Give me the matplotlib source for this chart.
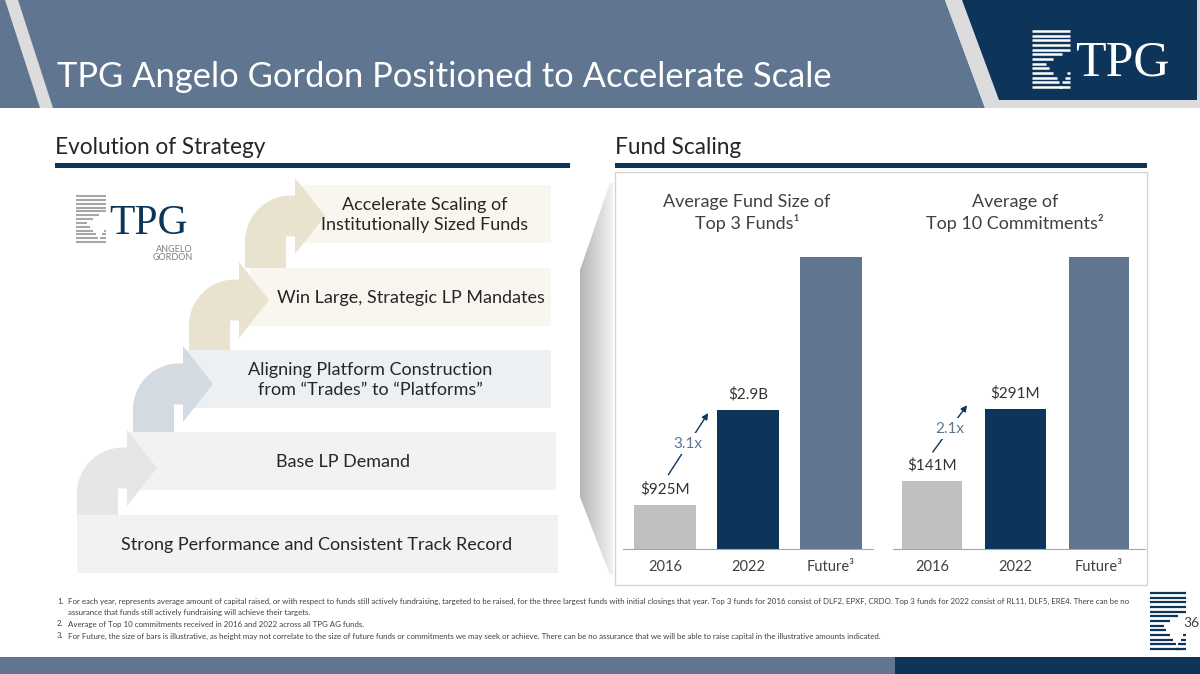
# plot.py
# TPG Angelo Gordon slide: evolution of strategy + fund scaling bars
import numpy as np
import matplotlib.pyplot as plt
from matplotlib.patches import Polygon, Rectangle
from matplotlib.colors import LinearSegmentedColormap

# data
years = ['2016', '2022', 'Future\u00b3']
fund_size = [925, 2900, 6100]        # $M, future bar is illustrative
fund_lbl = ['$925M', '$2.9B', '']
commit = [141, 291, 605]             # $M, future bar is illustrative
commit_lbl = ['$141M', '$291M', '']
growth = ['3.1x', '2.1x']
steps = ['Strong Performance and Consistent Track Record',
         'Base LP Demand',
         'Aligning Platform Construction\nfrom \u201cTrades\u201d to \u201cPlatforms\u201d',
         'Win Large, Strategic LP Mandates',
         'Accelerate Scaling of\nInstitutionally Sized Funds']
title = 'TPG Angelo Gordon Positioned to Accelerate Scale'
notes = [('1.', 'For each year, represents average amount of capital raised, or with respect to funds still actively fundraising, targeted to be raised, for the three largest funds with initial closings that year. Top 3 funds for 2016 consist of DLF2, EPXF, CRDO. Top 3 funds for 2022 consist of RL11, DLF5, ERE4. There can be no'),
         ('', 'assurance that funds still actively fundraising will achieve their targets.'),
         ('2.', 'Average of Top 10 commitments received in 2016 and 2022 across all TPG AG funds.'),
         ('3.', 'For Future, the size of bars is illustrative, as height may not correlate to the size of future funds or commitments we may seek or achieve. There can be no assurance that we will be able to raise capital in the illustrative amounts indicated.')]

# colours
navy = '#0c3559'
slate = '#5f7590'
grey = '#bfbfbf'
txt = '#262626'
fnt = 'Lato'

W, H = 1200, 674
fig = plt.figure(figsize=(12, 6.74), dpi=100)
bg = fig.add_axes([0, 0, 1, 1])
bg.set_xlim(0, W)
bg.set_ylim(H, 0)
bg.axis('off')


def px_rect(x0, y0, x1, y1):
    return [x0 / W, 1 - y1 / H, (x1 - x0) / W, (y1 - y0) / H]


def draw_mark(ax, x0, y0, w, h, color, lw):
    # striped sigma mark of the TPG logo
    n = 13
    left = [1, 1, 1, 1, 1, .78, .56, .38, .45, .55, .65, .72, .8]
    for k in range(n):
        y = y0 + k * h / (n - 1)
        ax.plot([x0, x0 + left[k] * w], [y, y], color=color, lw=lw, solid_capstyle='butt')
        if k >= 9:
            ax.plot([x0 + (1 - .07 * (k - 8)) * w, x0 + w], [y, y], color=color, lw=lw,
                    solid_capstyle='butt')


def bent_arrow(x0, yb, yc, color, w=41, R=46, hx=50, tx=80, hh=38):
    top = yc - w / 2
    bot = yc + w / 2
    cx, cy = x0 + R, top + R
    th = np.linspace(np.pi, 1.5 * np.pi, 30)
    pts = [(x0, yb)] + list(zip(cx + R * np.cos(th), cy + R * np.sin(th)))
    pts += [(x0 + hx, top), (x0 + hx, yc - hh), (x0 + tx, yc), (x0 + hx, yc + hh),
            (x0 + hx, bot), (x0 + w, bot), (x0 + w, yb)]
    bg.add_patch(Polygon(pts, closed=True, fc=color, ec='none', zorder=3))


# ---- title bar
bg.add_patch(Polygon([(0, 0), (945, 0), (985, 108), (0, 108)], fc=slate, ec='none'))
bg.add_patch(Polygon([(945, 0), (1200, 0), (1200, 108), (985, 108)], fc='#dcdcdc', ec='none'))
bg.add_patch(Polygon([(962, 0), (1197, 0), (1197, 100), (999, 100)], fc=navy, ec='none'))
bg.add_patch(Polygon([(5, 0), (18, 0), (53, 108), (40, 108)], fc='#dcdcdc', ec='none'))
bg.text(57, 77, title, color='white', fontsize=24.8, family=fnt, va='center')
draw_mark(bg, 1032, 31, 38, 56, 'white', 1.8)
bg.text(1075, 75, 'TPG', color='white', fontsize=36, family='Liberation Serif', va='baseline')

# ---- section headings
bg.text(55, 148, 'Evolution of Strategy', fontsize=16.3, family=fnt, color=txt, va='center')
bg.text(615, 148, 'Fund Scaling', fontsize=16.3, family=fnt, color=txt, va='center')
bg.add_patch(Rectangle((55, 163), 515, 5, fc=navy, ec='none'))
bg.add_patch(Rectangle((615, 163), 532, 5, fc=navy, ec='none'))

# ---- evolution of strategy steps
band_x0 = [77, 130, 185, 250, 300]
band_x1 = [558, 556, 551, 551, 551]
band_y0 = [515, 432, 350, 268, 185]
band_col = ['#f2f2f2', '#f2f2f2', '#edf0f3', '#f8f6ef', '#f8f6ef']
text_x = [317, 343, 370, 411, 425]
for i in range(5):
    bg.add_patch(Rectangle((band_x0[i], band_y0[i]), band_x1[i] - band_x0[i], 58,
                           fc=band_col[i], ec='none', zorder=2))
    bg.text(text_x[i], band_y0[i] + 30, steps[i], ha='center', va='center', fontsize=13,
            family=fnt, color=txt, linespacing=1.35, zorder=4)

arrow_col = ['#e6e6e6', '#d3dae2', '#e9e2cf', '#e9e2cf']
for i in range(4):
    bent_arrow(77 + 56 * i, band_y0[i], 468 - 84 * i, arrow_col[i])

# TPG Angelo Gordon logo
draw_mark(bg, 76, 196, 30, 46, '#a6a6a6', 1.5)
bg.text(109, 234, 'TPG', color=navy, fontsize=30, family='Liberation Serif', va='baseline')
bg.text(193, 249, 'ANGELO', color='#7f7f7f', fontsize=6.5, family=fnt, ha='right', va='center')
bg.text(193, 258, 'GORDON', color='#7f7f7f', fontsize=6.5, family=fnt, ha='right', va='center')

# ---- zoom trapezoid with gradient
trap = Polygon([(610, 183), (613, 183), (613, 575), (610, 575), (580, 497), (580, 270)],
               fc='none', ec='none')
bg.add_patch(trap)
grad = np.linspace(0, 1, 64).reshape(1, -1)
im = bg.imshow(grad, extent=[580, 613, 575, 183],
               cmap=LinearSegmentedColormap.from_list('g', ['#b5b5b5', '#f2f2f2']),
               aspect='auto', zorder=1)
im.set_clip_path(trap)
bg.set_xlim(0, W)
bg.set_ylim(H, 0)

# chart frame
bg.add_patch(Rectangle((615, 172), 532, 413, fc='none', ec='#d4d4d4', lw=1))

# chart titles
bg.text(747, 213, 'Average Fund Size of\nTop 3 Funds\u00b9', ha='center', va='center', fontsize=13,
        family=fnt, color='#404040', linespacing=1.3)
bg.text(1015, 213, 'Average of\nTop 10 Commitments\u00b2', ha='center', va='center', fontsize=13,
        family=fnt, color='#404040', linespacing=1.3)


# ---- bar charts
def bar_chart(rect, xlim, width, vals, lbls, arr, gtxt):
    ax = fig.add_axes(rect)
    x = np.arange(len(vals))
    ax.bar(x, vals, width=width, color=[grey, navy, slate])
    ax.set_xlim(*xlim)
    ax.set_ylim(0, vals[-1])
    for s in ['top', 'left', 'right']:
        ax.spines[s].set_visible(False)
    ax.spines['bottom'].set_color('#a6a6a6')
    ax.set_yticks([])
    ax.set_xticks(x)
    ax.set_xticklabels(years, fontsize=10.5, family=fnt, color='#404040')
    ax.tick_params(axis='x', length=0, pad=8)
    ax.patch.set_alpha(0)
    for i in range(len(vals)):
        if lbls[i]:
            ax.annotate(lbls[i], (x[i], vals[i]), xytext=(0, 6), textcoords='offset points',
                        ha='center', va='bottom', fontsize=11, family=fnt, color='#333333')
    (x0, y0), (x1, y1) = arr
    ax.annotate('', xy=(x1, y1), xytext=(x0, y0),
                arrowprops=dict(arrowstyle='-|>', color=navy, lw=1, mutation_scale=9,
                                shrinkA=0, shrinkB=0))
    ax.text((x0 + x1) / 2, (y0 + y1) / 2, gtxt, ha='center', va='center', fontsize=11,
            family=fnt, color=slate, bbox=dict(fc='white', ec='none', pad=2.5))
    return ax


bar_chart(px_rect(623, 257, 873, 549), (-0.506, 2.506), 0.735, fund_size, fund_lbl,
          [(0.04, 1550), (0.52, 2840)], growth[0])
bar_chart(px_rect(893, 257, 1145, 549), (-0.467, 2.551), 0.73, commit, commit_lbl,
          [(0.01, 201), (0.42, 298)], growth[1])

# ---- footnotes
fy = [601, 613, 624, 636]
for (num, s), y in zip(notes, fy):
    if num:
        bg.text(57, y, num, fontsize=5.7, family=fnt, color='#404040', va='center')
    bg.text(68, y, s, fontsize=5.7, family=fnt, color='#404040', va='center')

# page mark + number
draw_mark(bg, 1150, 593, 36, 56, navy, 1.6)
bg.text(1183, 623, '36', fontsize=10, family=fnt, color='#404040', va='center')

# ---- bottom band
bg.add_patch(Rectangle((0, 657), 895, 17, fc=slate, ec='none'))
bg.add_patch(Rectangle((895, 657), 305, 17, fc=navy, ec='none'))

fig.savefig('out.png', dpi=100)
